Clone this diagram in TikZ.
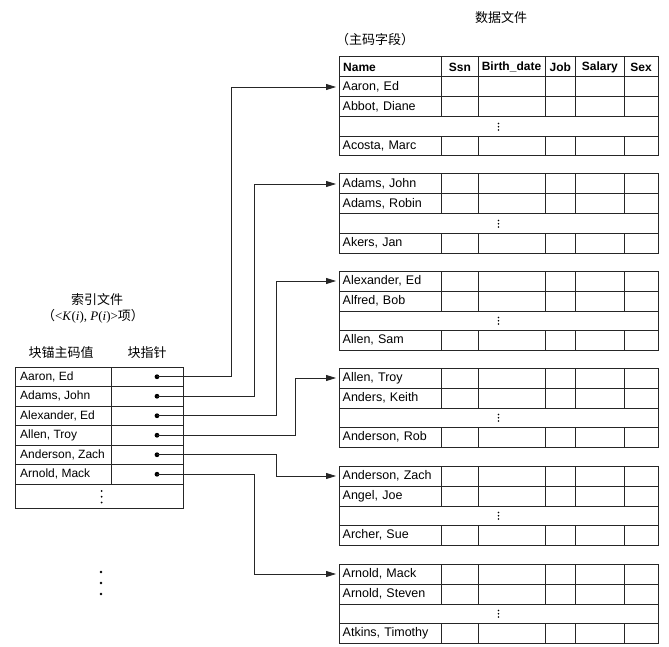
\documentclass[tikz,border=0pt]{standalone}
\usepackage{fontspec}
\setmainfont{Liberation Sans}
\newfontfamily\cjk{Noto Sans CJK SC}
\newfontfamily\serifit{Liberation Serif}
\usetikzlibrary{arrows.meta}
\tikzset{
  grid/.style={line width=1pt, black!85},
  namecell/.style={anchor=west, minimum height=20pt, text width=96pt, inner xsep=3.5pt, inner ysep=0pt, font=\fontsize{12.5}{12.5}\selectfont},
  headcell/.style={inner sep=0pt, font=\bfseries\fontsize{12}{12}\selectfont},
  icell/.style={anchor=west, inner xsep=5pt, inner ysep=0pt, font=\fontsize{12}{12}\selectfont},
  ptr/.style={circle, fill=black, inner sep=0pt, minimum size=4.8pt},
  conn/.style={line width=0.85pt, black!85},
  arr/.style={conn, -{Triangle[length=10pt,width=6pt]}, shorten >=3pt},
  cjklabel/.style={inner sep=0pt, font=\cjk\fontsize{13}{13}\selectfont},
  vdot/.style={circle, fill=black, inner sep=0pt, minimum size=1.6pt},
}
\begin{document}
\begin{tikzpicture}[x=1pt,y=-1pt]
\useasboundingbox (0,0) rectangle (669,647);

% titles
\node[cjklabel] (dtitle) at (501,18) {数据文件};
\node[cjklabel, anchor=west] (pk) at (336,40) {（主码字段）};
\node[cjklabel] (ititle) at (97,300) {索引文件};
\node[inner sep=0pt, font=\fontsize{13}{13}\selectfont] (isub) at (93,316)
  {{\cjk （}{\serifit <\textit{K}(\textit{i}), \textit{P}(\textit{i})>}{\cjk 项）}};
\node[cjklabel] (h1) at (61,353) {块锚主码值};
\node[cjklabel] (h2) at (147,353) {块指针};

% data file header
\draw[grid] (339,57) rectangle (658,77);
\foreach \x in {441.7,478,545,575.7,624} \draw[grid] (\x,57) -- (\x,77);
\node[headcell, anchor=west] (hn) at (343,67) {Name};
\node[headcell] (hs) at (459.85,67) {Ssn};
\node[headcell] (hb) at (511.5,67) {Birth\_date};
\node[headcell] (hj) at (560.35,67) {Job};
\node[headcell] (hsa) at (599.85,67) {Salary};
\node[headcell] (hse) at (641,67) {Sex};

% data blocks
\foreach \k/\T/\a/\b/\d in {
  1/77/{Aaron, Ed}/{Abbot, Diane}/{Acosta, Marc},
  2/174/{Adams, John}/{Adams, Robin}/{Akers, Jan},
  3/271/{Alexander, Ed}/{Alfred, Bob}/{Allen, Sam},
  4/368/{Allen, Troy}/{Anders, Keith}/{Anderson, Rob},
  5/466/{Anderson, Zach}/{Angel, Joe}/{Archer, Sue},
  6/564/{Arnold, Mack}/{Arnold, Steven}/{Atkins, Timothy}} {
  \draw[grid] (339,\T) rectangle (658,\T+79);
  \draw[grid] (339,\T+20) -- (658,\T+20);
  \draw[grid] (339,\T+40) -- (658,\T+40);
  \draw[grid] (339,\T+59.5) -- (658,\T+59.5);
  \foreach \x in {441.7,478,545,575.7,624} {
    \draw[grid] (\x,\T) -- (\x,\T+40);
    \draw[grid] (\x,\T+59.5) -- (\x,\T+79);
  }
  \node[namecell] (r\k) at (339,\T+10) {\a};
  \node[namecell] (s\k) at (339,\T+30) {\b};
  \node[namecell] (l\k) at (339,\T+69.25) {\d};
  \node[vdot] at (498.5,\T+46.5) {};
  \node[vdot] at (498.5,\T+49.75) {};
  \node[vdot] at (498.5,\T+53) {};
}

% index file
\draw[grid] (15,367) rectangle (183,508);
\foreach \y in {386.5,406,425.5,445,464.5,484} \draw[grid] (15,\y) -- (183,\y);
\draw[grid] (111,367) -- (111,484);
\node[vdot, minimum size=2pt] at (101.7,491) {};
\node[vdot, minimum size=2pt] at (101.7,496.7) {};
\node[vdot, minimum size=2pt] at (101.7,502.5) {};

\foreach \i/\y/\t in {1/376.75/{Aaron, Ed}, 2/396.25/{Adams, John}, 3/415.75/{Alexander, Ed},
  4/435.25/{Allen, Troy}, 5/454.75/{Anderson, Zach}, 6/474.25/{Arnold, Mack}} {
  \node[icell] (k\i) at (15,\y) {\t};
  \node[ptr] (p\i) at (157,\y) {};
}

% turning columns of the connectors
\coordinate (v1) at (231.5,0);
\coordinate (v2) at (254.3,0);
\coordinate (v3) at (276,0);
\coordinate (v4) at (295,0);
\coordinate (v5) at (276,0);
\coordinate (v6) at (254.3,0);

\foreach \i in {1,...,6} {
  \draw[arr] (p\i.center) -- (p\i.center -| v\i) -- (v\i |- r\i.west) -- (r\i.west);
}

% more blocks
\node[vdot, minimum size=2.6pt] (m1) at (101,572) {};
\node[vdot, minimum size=2.6pt] (m2) at (101,583) {};
\node[vdot, minimum size=2.6pt] (m3) at (101,594) {};
\end{tikzpicture}
\end{document}
